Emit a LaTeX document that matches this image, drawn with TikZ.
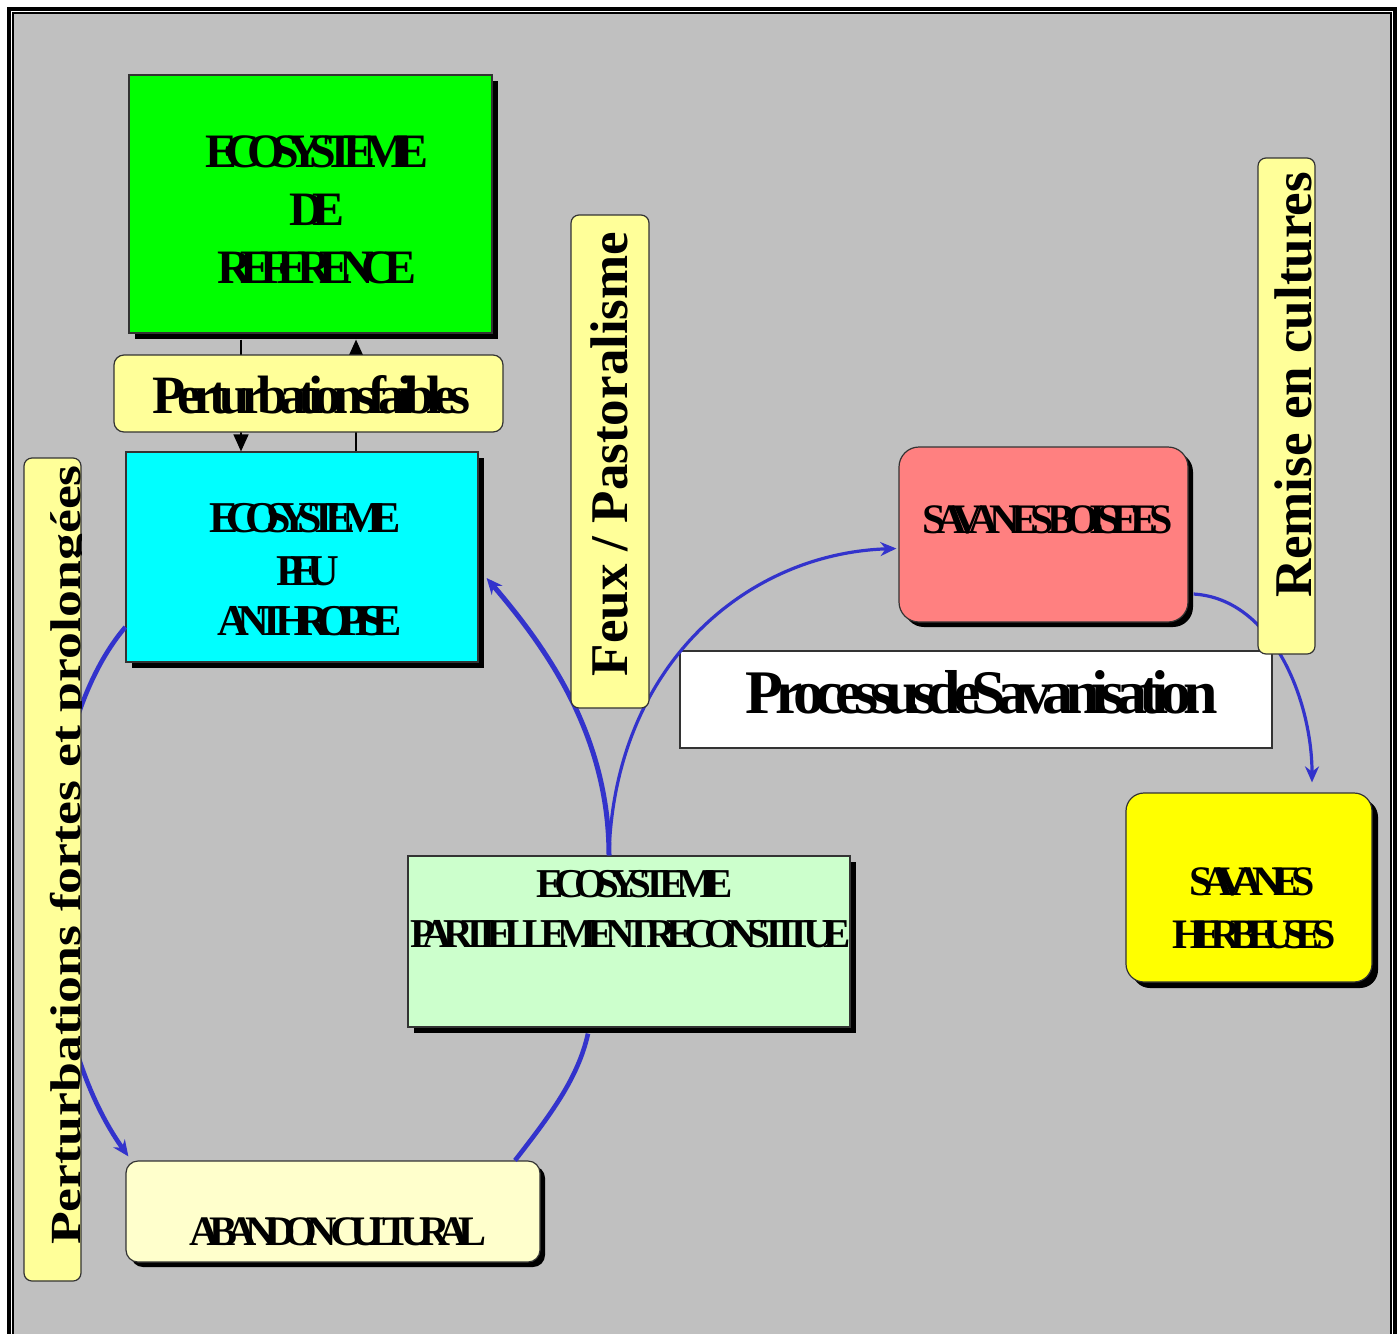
\documentclass[tikz,border=0pt]{standalone}
\usepackage{fontspec}
\setmainfont{Liberation Serif}
\usetikzlibrary{arrows.meta,shadows,calc}
\definecolor{cbg}{HTML}{C0C0C0}
\definecolor{cgreen}{HTML}{00FF00}
\definecolor{ccyan}{HTML}{00FFFF}
\definecolor{clab}{HTML}{FFFF99}
\definecolor{cpink}{HTML}{FF8080}
\definecolor{cyel}{HTML}{FFFF00}
\definecolor{clg}{HTML}{CCFFCC}
\definecolor{caban}{HTML}{FFFFCC}
\definecolor{cbluec}{HTML}{3333CC}
\newcommand\lsfont[2]{\fontsize{#1}{#1}\selectfont\bfseries\addfontfeature{LetterSpace=#2}\spaceskip=-0.15em\relax}
\newcommand\vfont{\fontsize{26.5pt}{26.5pt}\selectfont\bfseries}
\begin{document}
\begin{tikzpicture}[x=0.5pt,y=-0.5pt,
  box/.style={draw=black!80, line width=0.6pt, inner sep=0pt, anchor=center},
  shad/.style={general shadow={fill=black, shadow xshift=#1, shadow yshift=-#1}},
  shad/.default=3pt,
  lab/.style={box, fill=clab},
  txt/.style={anchor=base, inner sep=0pt},
  bluecurve/.style={draw=cbluec, line width=2.3pt},
  btip/.style={-{Stealth[length=8pt,width=7pt]}},
  ktip/.style={-{Triangle[length=8.5pt,width=7.5pt]}},
]
\useasboundingbox (0,0) rectangle (1400,1333);
% frame
\fill[white] (0,0) rectangle (1400,1333);
\fill[cbg] (13,13) rectangle (1391,1345);
\draw[line width=2pt] (9,9) rectangle (1395,1350);
\draw[line width=1pt] (13,13) rectangle (1391,1350);

% boxes
\node[box, shad, fill=cgreen, minimum width=181.5pt, minimum height=129pt] (green) at (310.5,204) {};
\node[box, shad, fill=ccyan, minimum width=176pt, minimum height=105pt] (cyan) at (302,557) {};
\node[box, shad=2.5pt, fill=cpink, rounded corners=10pt, minimum width=144.5pt, minimum height=87.5pt] (pink) at (1043.5,534.5) {};
\node[box, fill=white, minimum width=296pt, minimum height=48.5pt] (proc) at (976,699.5) {};
\node[box, shad, fill=cyel, rounded corners=9pt, minimum width=123pt, minimum height=94.5pt] (herb) at (1249,887.5) {};
\node[box, shad, fill=clg, minimum width=221pt, minimum height=85.5pt] (lg) at (629,941.5) {};
\node[box, shad=2.5pt, fill=caban, rounded corners=6pt, minimum width=207pt, minimum height=50.5pt] (aban) at (333,1211.5) {};

% texts in boxes
\node[txt, font=\lsfont{24pt}{-25.5}] (g1) at (317,167) {ECOSYSTEME};
\node[txt, font=\lsfont{24pt}{-26}] (g2) at (317,225) {DE};
\node[txt, font=\lsfont{24pt}{-25.5}] (g3) at (317,283) {REFERENCE};
\node[txt, font=\lsfont{22pt}{-29}] (c1) at (305,532) {ECOSYSTEME};
\node[txt, font=\lsfont{22pt}{-29}] (c2) at (308,585) {PEU};
\node[txt, font=\lsfont{22pt}{-27}] (c3) at (310,635) {ANTHROPISE};
\node[txt, font=\lsfont{20.5pt}{-24}] (l1) at (635,897) {ECOSYSTEME};
\node[txt, font=\lsfont{20.5pt}{-23}] (l2) at (630.5,947) {PARTIELLEMENT RECONSTITUE};
\node[txt, font=\lsfont{21pt}{-21.4}] (p1) at (1047.5,533) {SAVANES BOISEES};
\node[txt, font=\lsfont{21pt}{-24}] (h1) at (1252,895) {SAVANES};
\node[txt, font=\lsfont{21pt}{-26.5}] (h2) at (1254,948) {HERBEUSES};
\node[txt, font=\lsfont{21pt}{-25.8}] (a1) at (338,1245) {ABANDON CULTURAL};
\node[txt, font=\lsfont{31pt}{-13.4}] (pr1) at (981.5,713) {Processus de Savanisation};

% blue connectors
\draw[bluecurve, line width=2.5pt, btip] ([xshift=-10pt]lg.north) .. controls +(0,-120) and +(60,70) .. ([xshift=4pt,yshift=-10.5pt]cyan.east);
\draw[bluecurve, line width=1.6pt, btip] ([xshift=-10pt]lg.north) .. controls +(5,-190) and +(-150,5) .. ([xshift=-1pt,yshift=-7pt]pink.west);
\draw[bluecurve, line width=1.6pt, btip] ([xshift=2.5pt,yshift=-29.75pt]pink.east) .. controls +(80,5) and +(0,-80) .. ([xshift=31.5pt,yshift=5pt]herb.north);
\draw[bluecurve, btip] ([yshift=-35pt]cyan.west) .. controls +(-96,113) and +(-100,-140) .. ([xshift=1.5pt,yshift=2pt]aban.north west);
\draw[bluecurve] ([xshift=-20.5pt,yshift=-3pt]lg.south) .. controls +(-10,45) and +(35,-45) .. ([xshift=91pt]aban.north);

% black connectors
\coordinate (xl) at (241,0);
\coordinate (xr) at (356,0);
\draw[line width=0.75pt, ktip, shorten <=3pt] (green.south -| xl) -- (cyan.north -| xl);
\draw[line width=0.75pt, ktip, shorten >=3pt] (cyan.north -| xr) -- (green.south -| xr);

% labels
\node[lab, rounded corners=5pt, minimum width=194.5pt, minimum height=38.5pt] (faib) at (308.5,393.5) {};
\node[txt, font=\lsfont{27pt}{-15}] (f1) at (311.5,413) {Perturbations faibles};
\node[lab, rounded corners=4pt, minimum width=39pt, minimum height=246.5pt] (feux) at (610,461.5) {};
\node[txt, rotate=90, font=\vfont] (fx1) at (627,454) {Feux / Pastoralisme};
\node[lab, rounded corners=4pt, minimum width=28.5pt, minimum height=248pt] (rem) at (1286.5,406) {};
\begin{scope}
\clip (rem.south west) rectangle (rem.north east);
\node[txt, rotate=90, font=\vfont] (r1) at (1311,385) {Remise en cultures};
\end{scope}
\node[lab, rounded corners=4pt, minimum width=28.5pt, minimum height=411.5pt] (pf) at (52.5,869.5) {};
\begin{scope}
\clip (pf.south west) rectangle (pf.north east);
\node[txt, rotate=90, font=\fontsize{21.5pt}{21.5pt}\selectfont\bfseries] (pf1) at (80,855) {\scalebox{1.25}[1]{Perturbations fortes et prolongées}};
\end{scope}
\end{tikzpicture}
\end{document}
